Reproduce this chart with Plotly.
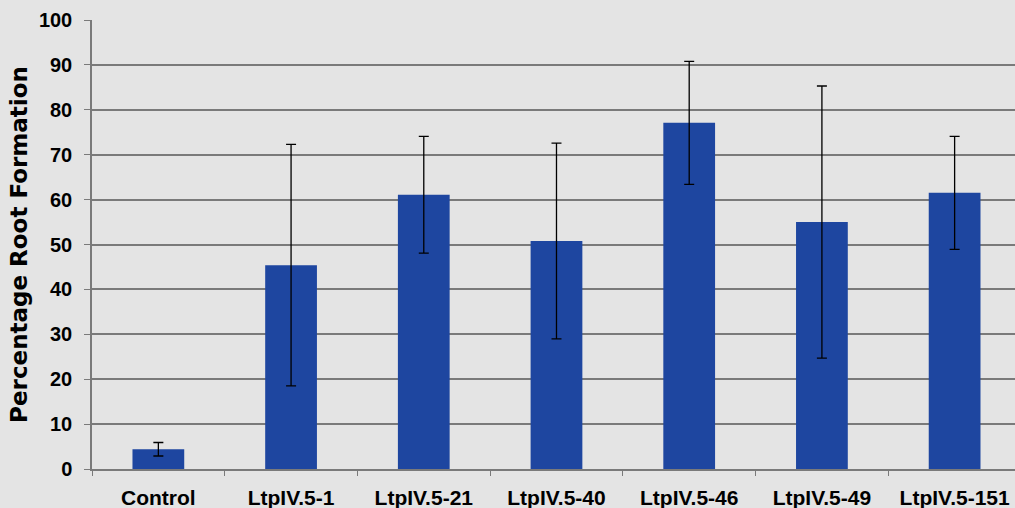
import plotly.graph_objects as go

categories = ["Control", "LtpIV.5-1", "LtpIV.5-21", "LtpIV.5-40", "LtpIV.5-46", "LtpIV.5-49", "LtpIV.5-151"]
values = [4.4, 45.4, 61.1, 50.8, 77.1, 55.0, 61.5]
errors = [1.5, 26.9, 13.0, 21.8, 13.7, 30.3, 12.6]
y_ticks = [0, 10, 20, 30, 40, 50, 60, 70, 80, 90, 100]

font_family = "Liberation Sans, Arial, sans-serif"

fig = go.Figure()
fig.add_trace(go.Bar(
    x=categories,
    y=values,
    width=0.39,
    marker=dict(color="#1E46A0", line=dict(width=0)),
    error_y=dict(type="data", array=errors, visible=True, color="black", thickness=1.3, width=5),
))

fig.update_layout(
    width=1015,
    height=508,
    margin=dict(l=92, r=0, t=20, b=39),
    paper_bgcolor="#e4e4e4",
    plot_bgcolor="#e4e4e4",
    showlegend=False,
    xaxis=dict(
        range=[-0.5, 6.455],
        showgrid=False,
        showline=True,
        linecolor="#7a7a7a",
        linewidth=1.5,
        ticks="outside",
        tickson="boundaries",
        ticklen=5,
        tickcolor="#7a7a7a",
        ticklabelstandoff=9,
        tickfont=dict(family=font_family, size=21, color="black", weight="bold"),
    ),
    yaxis=dict(
        range=[0, 100],
        tickvals=y_ticks,
        showgrid=True,
        gridcolor="#7a7a7a",
        gridwidth=1.5,
        showline=True,
        linecolor="#7a7a7a",
        linewidth=1.5,
        ticks="outside",
        ticklen=6,
        tickcolor="#7a7a7a",
        zeroline=False,
        ticklabelstandoff=8,
        tickfont=dict(family=font_family, size=20, color="black", weight="bold"),
        title=dict(
            text="Percentage Root Formation",
            font=dict(family="DejaVu Sans, Liberation Sans, sans-serif", size=23, color="black", weight="bold"),
            standoff=5,
        ),
    ),
)

fig.write_html("out.html", config={"displayModeBar": False},
               post_script="document.body.style.margin='0px';")
